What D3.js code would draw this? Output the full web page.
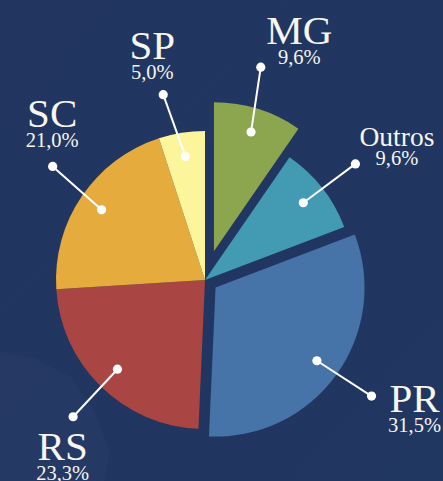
<!DOCTYPE html>
<html>
<head>
<meta charset="utf-8">
<script src="https://cdn.jsdelivr.net/npm/d3@7"></script>
<style>
  html, body { margin: 0; padding: 0; background: #213561; }
  svg { display: block; }
</style>
</head>
<body>
<div id="chart"></div>
<script>
// participação por estado
const categories = ['MG', 'Outros', 'PR', 'RS', 'SC', 'SP']
const shares = [9.6, 9.6, 31.5, 23.3, 21.0, 5.0]

const colors = {
  MG: '#8ba64f',
  Outros: '#429bb3',
  PR: '#4673a8',
  RS: '#a94543',
  SC: '#e5ab3c',
  SP: '#fdf59c'
}
// slices pulled out of the pie
const explode = { MG: 30, PR: 13 }
// small angle tweaks (degrees) for the outer end of the leader lines
const tilt = { MG: -3, Outros: 0.5, PR: -1, RS: -0.5, SC: 2.5, SP: -3.7 }
// name baseline relative to the outer dot
const labelNudge = {
  MG: [38.5, -23],
  Outros: [41.5, -18],
  PR: [43, 16],
  RS: [-10.5, 43],
  SC: [-0.5, -39],
  SP: [-11, -36]
}

const width = 443
const height = 481
const cx = 205
const cy = 280
const radius = 149

const ptBR = d3.formatLocale({ decimal: ',', thousands: '.', grouping: [3], currency: ['R$', ''] })
const pct = v => ptBR.format('.1f')(v) + '%'

const data = categories.map((c, i) => ({ name: c, value: shares[i] }))

const svg = d3.select('#chart')
  .append('svg')
  .attr('width', width)
  .attr('height', height)

// background
const defs = svg.append('defs')
const bg = defs.append('linearGradient')
  .attr('id', 'bg')
  .attr('x1', 0).attr('y1', 0).attr('x2', 1).attr('y2', 1)
bg.append('stop').attr('offset', '0%').attr('stop-color', '#213560')
bg.append('stop').attr('offset', '100%').attr('stop-color', '#203762')

svg.append('rect')
  .attr('width', width)
  .attr('height', height)
  .attr('fill', 'url(#bg)')

// faint decoration bottom-left
svg.append('path')
  .attr('d', 'M0,352 L35,358 L72,378 L96,415 L110,452 L104,481 L0,481 Z')
  .attr('fill', '#ffffff')
  .attr('opacity', 0.02)

const g = svg.append('g')
  .attr('transform', `translate(${cx},${cy})`)

const pie = d3.pie()
  .value(d => d.value)
  .sort(null)

const arc = d3.arc()
  .innerRadius(0)
  .outerRadius(radius)

const dotArc = d3.arc()
  .innerRadius(125)
  .outerRadius(125)

const offset = d => {
  const e = explode[d.data.name] || 0
  const a = (d.startAngle + d.endAngle) / 2
  return [e * Math.sin(a), -e * Math.cos(a)]
}

const outerPoint = d => {
  const a = (d.startAngle + d.endAngle) / 2 + (tilt[d.data.name] || 0) * Math.PI / 180
  return [190 * Math.sin(a), -190 * Math.cos(a)]
}

const slices = g.selectAll('.slice')
  .data(pie(data))
  .join('g')
  .attr('class', 'slice')
  .attr('transform', d => `translate(${offset(d)})`)

slices.append('path')
  .attr('d', arc)
  .attr('fill', d => colors[d.data.name])

// leader lines
slices.append('line')
  .attr('x1', d => dotArc.centroid(d)[0])
  .attr('y1', d => dotArc.centroid(d)[1])
  .attr('x2', d => outerPoint(d)[0])
  .attr('y2', d => outerPoint(d)[1])
  .attr('stroke', '#ffffff')
  .attr('stroke-width', 2)

slices.append('circle')
  .attr('cx', d => dotArc.centroid(d)[0])
  .attr('cy', d => dotArc.centroid(d)[1])
  .attr('r', 4.6)
  .attr('fill', '#ffffff')

slices.append('circle')
  .attr('cx', d => outerPoint(d)[0])
  .attr('cy', d => outerPoint(d)[1])
  .attr('r', 4.6)
  .attr('fill', '#ffffff')

// labels
const labels = slices.append('g')
  .attr('transform', d => {
    const p = outerPoint(d)
    const n = labelNudge[d.data.name]
    return `translate(${p[0] + n[0]},${p[1] + n[1]})`
  })
  .attr('text-anchor', 'middle')
  .attr('fill', '#f6f5f0')
  .style('font-family', '"Liberation Serif", "DejaVu Serif", serif')

labels.append('text')
  .attr('font-size', d => d.data.name === 'Outros' ? 27.5 : 41)
  .text(d => d.data.name)

labels.append('text')
  .attr('y', d => d.data.name === 'Outros' ? 19 : 20)
  .attr('font-size', 20.5)
  .text(d => pct(d.data.value))
</script>
</body>
</html>
